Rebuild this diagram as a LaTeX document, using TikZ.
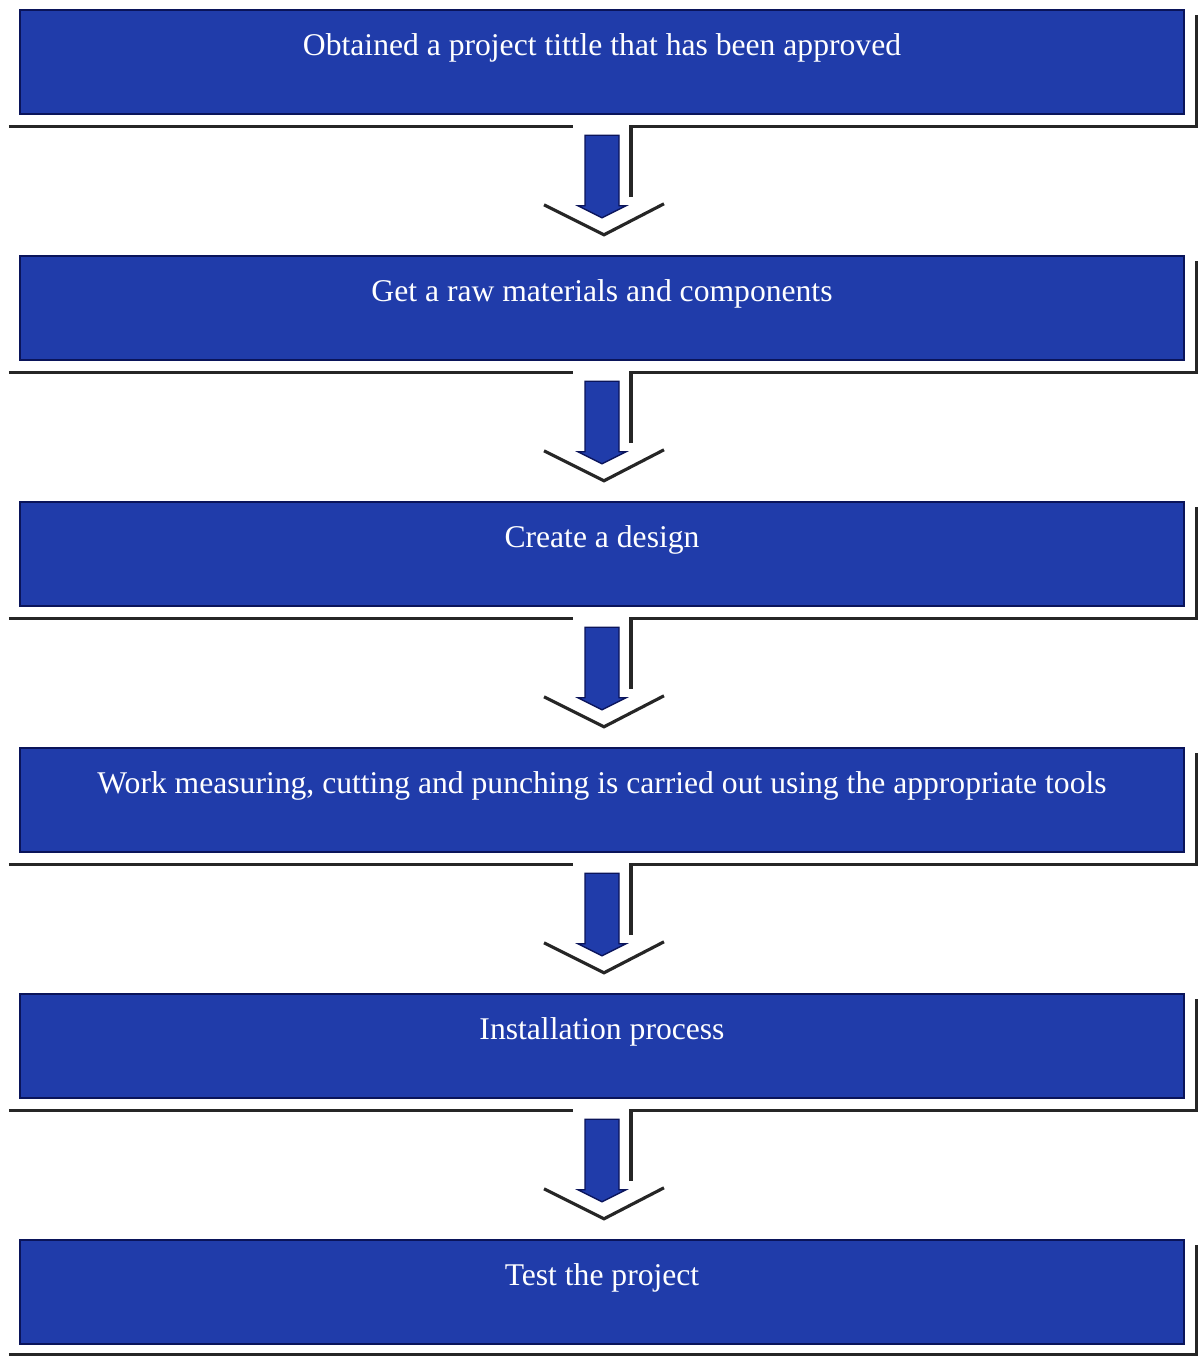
\documentclass[tikz,border=0pt]{standalone}
\usepackage{fontspec}
\setmainfont{Liberation Serif}
\usetikzlibrary{positioning,calc}
\definecolor{boxblue}{RGB}{32,60,170}
\definecolor{boxedge}{RGB}{10,20,90}

\begin{document}
\begin{tikzpicture}[x=0.02cm,y=-0.02cm,
    stepbox/.style={draw=boxedge, line width=1.4pt, fill=boxblue, text=white,
      minimum width=23.28cm, minimum height=2.08cm, inner sep=0pt,
      text height=0.45cm, text depth=0.72cm, font=\fontsize{18}{21}\selectfont},
    arrowbody/.style={draw=boxedge, line width=0.8pt, fill=boxblue},
    shadeline/.style={line width=1.8pt, black!85}]
    \useasboundingbox (0,0) rectangle (1199,1357);

    % --- Steps ---
    \node[stepbox] (s1) at (602,62) {Obtained a project tittle that has been approved};
    \node[stepbox] (s2) at (602,308) {Get a raw materials and components};
    \node[stepbox] (s3) at (602,554) {Create a design};
    \node[stepbox] (s4) at (602,800) {Work measuring, cutting and punching is carried out using the appropriate tools};
    \node[stepbox] (s5) at (602,1046) {Installation process};
    \node[stepbox] (s6) at (602,1292) {Test the project};

    % Arrow 1
    \draw[arrowbody] ($(s1.south)+(-17,20)$) -- ++(34,0) -- ($(s2.north)+(17,-49)$) -- ++(7,0)
      -- ($(s2.north)+(0,-37)$) -- ($(s2.north)+(-24,-49)$) -- ++(7,0) -- cycle;
    \draw[shadeline] ($(s1.south west)+(-10,11)$) -- ($(s1.south)+(-29,11)$);
    \draw[shadeline] ($(s1.south)+(29,82)$) -- ($(s1.south)+(29,11)$) -- ($(s1.south east)+(11,11)$) -- ($(s1.north east)+(11,6)$);
    \draw[shadeline] ($(s2.north)+(-58,-50)$) -- ($(s2.north)+(2,-20)$) -- ($(s2.north)+(62,-51)$);

    % Arrow 2
    \draw[arrowbody] ($(s2.south)+(-17,20)$) -- ++(34,0) -- ($(s3.north)+(17,-49)$) -- ++(7,0)
      -- ($(s3.north)+(0,-37)$) -- ($(s3.north)+(-24,-49)$) -- ++(7,0) -- cycle;
    \draw[shadeline] ($(s2.south west)+(-10,11)$) -- ($(s2.south)+(-29,11)$);
    \draw[shadeline] ($(s2.south)+(29,82)$) -- ($(s2.south)+(29,11)$) -- ($(s2.south east)+(11,11)$) -- ($(s2.north east)+(11,6)$);
    \draw[shadeline] ($(s3.north)+(-58,-50)$) -- ($(s3.north)+(2,-20)$) -- ($(s3.north)+(62,-51)$);

    % Arrow 3
    \draw[arrowbody] ($(s3.south)+(-17,20)$) -- ++(34,0) -- ($(s4.north)+(17,-49)$) -- ++(7,0)
      -- ($(s4.north)+(0,-37)$) -- ($(s4.north)+(-24,-49)$) -- ++(7,0) -- cycle;
    \draw[shadeline] ($(s3.south west)+(-10,11)$) -- ($(s3.south)+(-29,11)$);
    \draw[shadeline] ($(s3.south)+(29,82)$) -- ($(s3.south)+(29,11)$) -- ($(s3.south east)+(11,11)$) -- ($(s3.north east)+(11,6)$);
    \draw[shadeline] ($(s4.north)+(-58,-50)$) -- ($(s4.north)+(2,-20)$) -- ($(s4.north)+(62,-51)$);

    % Arrow 4
    \draw[arrowbody] ($(s4.south)+(-17,20)$) -- ++(34,0) -- ($(s5.north)+(17,-49)$) -- ++(7,0)
      -- ($(s5.north)+(0,-37)$) -- ($(s5.north)+(-24,-49)$) -- ++(7,0) -- cycle;
    \draw[shadeline] ($(s4.south west)+(-10,11)$) -- ($(s4.south)+(-29,11)$);
    \draw[shadeline] ($(s4.south)+(29,82)$) -- ($(s4.south)+(29,11)$) -- ($(s4.south east)+(11,11)$) -- ($(s4.north east)+(11,6)$);
    \draw[shadeline] ($(s5.north)+(-58,-50)$) -- ($(s5.north)+(2,-20)$) -- ($(s5.north)+(62,-51)$);

    % Arrow 5
    \draw[arrowbody] ($(s5.south)+(-17,20)$) -- ++(34,0) -- ($(s6.north)+(17,-49)$) -- ++(7,0)
      -- ($(s6.north)+(0,-37)$) -- ($(s6.north)+(-24,-49)$) -- ++(7,0) -- cycle;
    \draw[shadeline] ($(s5.south west)+(-10,11)$) -- ($(s5.south)+(-29,11)$);
    \draw[shadeline] ($(s5.south)+(29,82)$) -- ($(s5.south)+(29,11)$) -- ($(s5.south east)+(11,11)$) -- ($(s5.north east)+(11,6)$);
    \draw[shadeline] ($(s6.north)+(-58,-50)$) -- ($(s6.north)+(2,-20)$) -- ($(s6.north)+(62,-51)$);

    % Last step shadow
    \draw[shadeline] ($(s6.south west)+(-10,9)$) -- ($(s6.south east)+(11,9)$) -- ($(s6.north east)+(11,6)$);
\end{tikzpicture}
\end{document}
